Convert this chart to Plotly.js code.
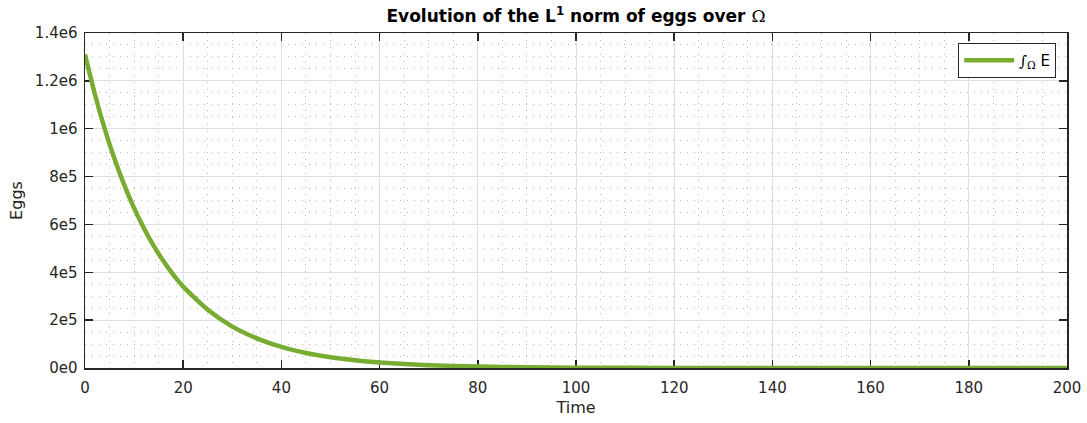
<!DOCTYPE html>
<html>
<head>
<meta charset="utf-8">
<script src="https://cdn.plot.ly/plotly-3.0.1.min.js"></script>
<style>html,body{margin:0;padding:0;background:#fff;}#chart{width:1087px;height:423px;}</style>
</head>
<body>
<div id="chart"></div>
<script>
// Time samples and L1 norm of eggs
const time = [0, 2, 4, 6, 8, 10, 12, 14, 16, 18, 20, 25, 30, 35, 40, 45, 50, 55, 60, 70, 80, 90, 100, 120, 150, 200];
const eggs = [1310000, 1145000, 1000000, 874000, 764000, 668000, 584000, 510000, 446000, 389000, 340000, 243000, 173000, 124000, 88000, 63000, 45000, 32000, 23000, 12000, 6000, 3000, 1500, 300, 0, 0];

const xTickVals = [0, 20, 40, 60, 80, 100, 120, 140, 160, 180, 200];
const yTickVals = [0, 200000, 400000, 600000, 800000, 1000000, 1200000, 1400000];
const yTickText = ['0e0', '2e5', '4e5', '6e5', '8e5', '1e6', '1.2e6', '1.4e6'];

const ink = '#262626';
const fam = 'DejaVu Sans';
const trace = {
  x: time, y: eggs, type: 'scatter', mode: 'lines',
  line: {color: '#77AC30', width: 4.5, shape: 'spline', smoothing: 0.6},
  name: '<span style="font-family:DejaVu Serif"><i>∫</i><sub>Ω</sub></span> E'
};

const axisCommon = {
  showline: true, linecolor: ink, linewidth: 1.5, mirror: 'ticks',
  ticks: 'inside', ticklen: 8, tickwidth: 1.5, tickcolor: ink,
  showgrid: true, gridcolor: '#dedede', gridwidth: 1,
  zeroline: false, layer: 'below traces',
  tickfont: {family: fam, size: 15, color: ink}
};

const layout = {
  width: 1087, height: 423,
  margin: {l: 85, r: 20, t: 33, b: 55},
  paper_bgcolor: '#fff', plot_bgcolor: '#fff',
  font: {family: fam, color: ink},
  title: {
    text: '<b>Evolution of the L<sup>1</sup> norm of eggs over </b><span style="font-family:DejaVu Serif">Ω</span>',
    font: {family: fam, size: 17, color: '#000'},
    x: 0.5, xref: 'paper', y: 0.962, yref: 'container', yanchor: 'middle'
  },
  xaxis: Object.assign({}, axisCommon, {
    range: [0, 200], tickvals: xTickVals, ticklabelstandoff: 5,
    minor: {dtick: 5, showgrid: true, gridcolor: '#b8b8b8', griddash: '1px,6px', gridwidth: 1, ticks: ''},
    title: {text: 'Time', font: {family: fam, size: 16, color: ink}, standoff: 6}
  }),
  yaxis: Object.assign({}, axisCommon, {
    range: [0, 1400000], tickvals: yTickVals, ticktext: yTickText, ticklabelstandoff: 3,
    minor: {dtick: 50000, showgrid: true, gridcolor: '#b8b8b8', griddash: '1px,6px', gridwidth: 1, ticks: ''},
    title: {text: 'Eggs', font: {family: fam, size: 16, color: ink}, standoff: 8}
  }),
  showlegend: true,
  legend: {
    x: 0.989, xanchor: 'right', y: 0.97, yanchor: 'top',
    bgcolor: '#fff', bordercolor: ink, borderwidth: 1,
    itemwidth: 50,
    font: {family: fam, size: 15, color: '#000'}
  }
};

Plotly.newPlot('chart', [trace], layout, {displayModeBar: false, staticPlot: true});
</script>
</body>
</html>
